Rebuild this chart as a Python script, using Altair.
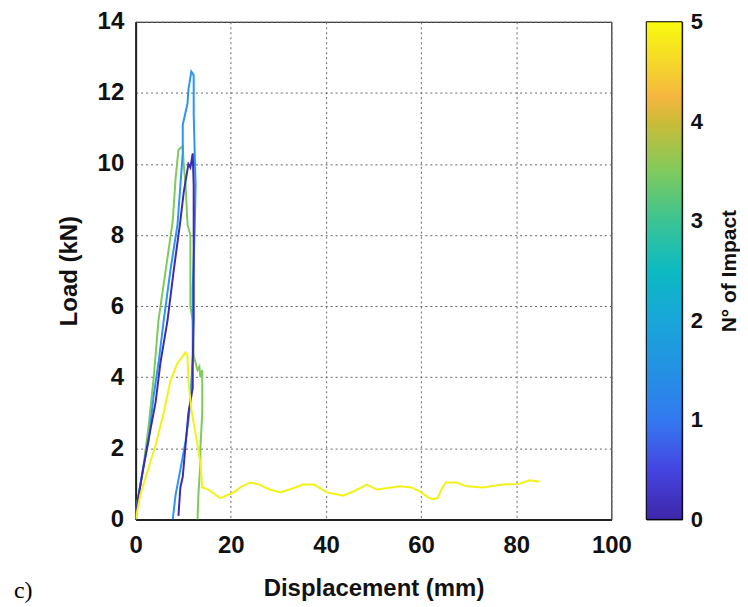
import altair as alt
import pandas as pd

# ---- curve data: Displacement (mm) / Load (kN) ----
imp0_x = [0, 0.4, 1.5, 2.5, 4.2, 5.2, 6.7, 8.0, 9.4, 10.1, 10.6, 11.1, 11.5, 12.0, 12.2, 12.2, 12.2, 12.0, 12.0, 11.1, 10.5, 9.9, 9.4, 9.0]
imp0_y = [0, 0.5, 1.35, 2.1, 3.3, 4.4, 5.6, 7.0, 8.4, 9.2, 9.6, 10.0, 9.9, 10.3, 9.4, 8.1, 5.6, 4.4, 3.7, 3.0, 2.1, 1.2, 0.9, 0.1]

imp2_x = [0, 0.4, 1.5, 2.7, 3.8, 4.8, 5.9, 7.3, 8.8, 9.9, 9.9, 10.9, 11.1, 11.7, 12.2, 12.2, 12.6, 12.4, 12.0, 12.0, 11.5, 11.1, 10.5, 9.4, 8.4, 7.8]
imp2_y = [0, 0.5, 1.4, 2.2, 3.5, 4.4, 5.6, 7.0, 8.3, 10.3, 11.1, 11.7, 12.1, 12.6, 12.5, 11.4, 9.4, 8.1, 6.5, 4.6, 3.3, 2.8, 2.2, 1.4, 0.7, 0.0]

imp3_x = [0, 0.1, 1.5, 2.7, 3.8, 4.8, 6.3, 7.8, 8.4, 9.0, 9.9, 10.1, 10.5, 10.9, 11.5, 11.5, 12.0, 12.2, 13.0, 13.4, 13.6, 14.0, 14.0, 13.6, 13.6, 13.2, 13.0]
imp3_y = [0, 0.3, 1.35, 2.6, 4.0, 5.6, 7.0, 8.4, 9.6, 10.4, 10.5, 10.0, 9.4, 8.3, 8.0, 6.0, 5.6, 4.6, 4.2, 4.3, 4.0, 4.2, 3.0, 2.0, 1.6, 0.7, 0.0]

imp5_x = [0, 1.0, 2.5, 4.2, 5.9, 7.3, 8.8, 9.4, 10.5, 10.9, 11.1, 11.7, 12.6, 13.6, 14.0, 15.1, 16.4, 17.8, 19.5, 20.5, 22.0, 24.0, 26.0, 28.0, 30.4, 32.5, 35.2, 37.5, 40.2, 43.6, 46.0, 48.6, 50.7, 55.6, 58.0, 59.7, 61.5, 62.5, 63.5, 64.3, 65.2, 67.5, 69.6, 73.0, 77.1, 80.7, 82.8, 84.9]
imp5_y = [0, 0.7, 1.35, 2.1, 3.0, 3.9, 4.4, 4.5, 4.7, 4.6, 3.9, 3.1, 2.4, 1.6, 0.9, 0.85, 0.73, 0.6, 0.7, 0.75, 0.9, 1.04, 0.98, 0.85, 0.76, 0.85, 0.98, 0.98, 0.76, 0.67, 0.8, 0.98, 0.84, 0.93, 0.9, 0.79, 0.62, 0.57, 0.6, 0.85, 1.04, 1.04, 0.93, 0.9, 0.98, 1.0, 1.1, 1.07]

curve_names = ["3", "2", "0", "5"]
curve_colors = ["#7ECB5B", "#2A96EE", "#3D2BB0", "#F2F21A"]
curve_x = [imp3_x, imp2_x, imp0_x, imp5_x]
curve_y = [imp3_y, imp2_y, imp0_y, imp5_y]

# colorbar (parula-like)
cbar_stops = [0, 0.5, 1, 1.5, 2, 2.5, 3, 3.5, 4, 4.25, 4.5, 5]
cbar_colors = ["#3E26A8", "#4545E2", "#3379F0", "#2491E3", "#19A6D9", "#0CBAC2",
               "#3BC393", "#80CA5D", "#CCBB36", "#F6B640", "#F4CF30", "#F9FB0E"]
cbar_ticks = [0, 1, 2, 3, 4, 5]
cbar_range = [0, 5]

x_ticks = [0, 20, 40, 60, 80, 100]
y_ticks = [0, 2, 4, 6, 8, 10, 12, 14]

rows = []
for name, xs, ys in zip(curve_names, curve_x, curve_y):
    for i, (xv, yv) in enumerate(zip(xs, ys)):
        rows.append({"curve": name, "disp": xv, "load": yv, "i": i})
df = pd.DataFrame(rows)

FONT = "Liberation Sans"

xscale = alt.Scale(domain=[0, 100], nice=False)
yscale = alt.Scale(domain=[0, 14], nice=False)

lines = alt.Chart(df).mark_line(strokeWidth=2, clip=True).encode(
    x=alt.X("disp:Q", scale=xscale,
            axis=alt.Axis(title="Displacement (mm)", values=x_ticks, labelPadding=14,
                          titlePadding=19, labelFlush=False)),
    y=alt.Y("load:Q", scale=yscale,
            axis=alt.Axis(title="Load (kN)", values=y_ticks, labelPadding=12,
                          titlePadding=16, labelFlush=False)),
    detail="curve:N",
    stroke=alt.Stroke("curve:N", scale=alt.Scale(domain=curve_names, range=curve_colors), legend=None),
    order=alt.Order("i:Q"),
)

panel_label = alt.Chart(pd.DataFrame({"t": ["c)"]})).mark_text(
    font="Liberation Serif", fontSize=24, color="black", align="left",
    baseline="middle").encode(x=alt.value(-122), y=alt.value(571), text="t:N")

main = alt.layer(lines, panel_label).properties(width=477, height=499)

# colorbar drawn as one rect with a linear gradient on its own 0-5 scale
grad = alt.LinearGradient(
    gradient="linear",
    stops=[alt.GradientStop(color=c, offset=s / 5.0) for s, c in zip(cbar_stops, cbar_colors)],
    x1=0, x2=0, y1=1, y2=0,
)
cbar_df = pd.DataFrame({"lo": [cbar_range[0]], "hi": [cbar_range[1]]})
cbar = alt.Chart(cbar_df).mark_rect(color=grad, stroke="black", strokeWidth=1).encode(
    x=alt.value(0), x2=alt.value(36),
    y=alt.Y("lo:Q", scale=alt.Scale(domain=cbar_range, nice=False),
            axis=alt.Axis(orient="right", values=cbar_ticks, format="d", title="N° of Impact",
                          titleAngle=270, titleBaseline="top", titlePadding=16,
                          labelFontSize=22, titleFontSize=21, labelPadding=8,
                          grid=False, domain=False, ticks=False, labelFlush=False)),
    y2="hi:Q",
).properties(width=36, height=499)

chart = alt.hconcat(main, cbar, spacing=13).properties(
    padding={"left": 5, "top": 0, "right": 0, "bottom": 0},
).configure_view(
    stroke="black", strokeWidth=1
).configure_axis(
    labelFont=FONT, labelFontSize=24, labelFontWeight="bold", labelColor="#111",
    titleFont=FONT, titleFontSize=24, titleFontWeight="bold", titleColor="#111",
    grid=True, gridColor="#666", gridDash=[2, 3], gridWidth=1, gridOpacity=1,
    ticks=False, domainColor="#222", domainWidth=2,
)

chart.save("out.html", embed_options={"renderer": "svg", "actions": False})
